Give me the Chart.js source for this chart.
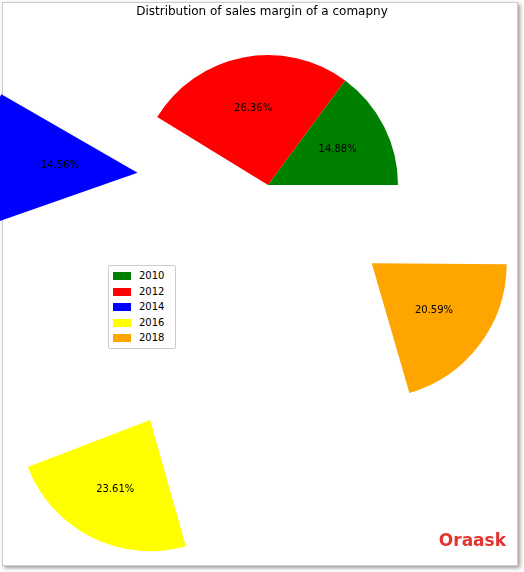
<!DOCTYPE html>
<html><head><meta charset="utf-8">
<script src="https://cdn.jsdelivr.net/npm/chart.js@4/dist/chart.umd.min.js"></script>
<style>
body{margin:0;width:524px;height:572px;background:#fff;position:relative;overflow:hidden;font-family:"DejaVu Sans",sans-serif}
#frame{position:absolute;left:2px;top:2px;width:514px;height:562px;border:1px solid #ccc;box-shadow:2px 2px 4px #999}
#title{position:absolute;left:0;width:524px;top:4px;text-align:center;font-size:12px;color:#000;z-index:2}
#wrap{position:absolute;left:-388px;top:-471px;width:1312px;height:1312px}
#legend{position:absolute;left:108px;top:265px;width:62px;border:1px solid #ccc;border-radius:2px;background:#fff;padding:2px 0 2px 4px;font-size:10px;z-index:2}
#legend div{height:15.5px;line-height:15.5px}
#legend span{display:inline-block;width:18px;height:8px;margin-right:8px;vertical-align:-1px}
#logo{position:absolute;right:18px;bottom:22px;color:#e3342f;font:bold 17px "DejaVu Sans",sans-serif;z-index:2}
</style></head><body>
<div id="frame"></div>
<div id="title">Distribution of sales margin of a comapny</div>
<div id="wrap"><canvas id="c" width="1312" height="1312"></canvas></div>
<div id="legend"></div>
<div id="logo">Oraask</div>
<script>
const years=['2010','2012','2014','2016','2018'];
const percents=[14.88,26.36,14.56,23.61,20.59];
const colors=['#008000','#ff0000','#0000ff','#ffff00','#ffa500'];
const explode=[0,0,131,263,130];
// Chart.js draws clockwise; matplotlib counter-clockwise -> reverse
const rev=a=>a.slice().reverse();
const labelPlugin={id:'lbl',afterDatasetsDraw(chart){
  const ctx=chart.ctx;const meta=chart.getDatasetMeta(0);
  ctx.save();ctx.font='10px "DejaVu Sans"';ctx.fillStyle='#000';ctx.textAlign='center';ctx.textBaseline='middle';
  meta.data.forEach((arc,i)=>{
    const mid=(arc.startAngle+arc.endAngle)/2;
    const off=rev(explode)[i];
    const r=arc.outerRadius*0.6+off;
    ctx.fillText(rev(percents)[i].toFixed(2)+'%',arc.x+Math.cos(mid)*r,arc.y+Math.sin(mid)*r);
  });
  ctx.restore();}};
new Chart(document.getElementById('c'),{type:'pie',
 data:{labels:rev(years),datasets:[{data:rev(percents),backgroundColor:rev(colors),borderWidth:0,offset:rev(explode).map(v=>v*4),hoverOffset:0}]},
 options:{responsive:false,animation:false,rotation:90,layout:{padding:0},
  plugins:{legend:{display:false},tooltip:{enabled:false}}},
 plugins:[labelPlugin]});
document.getElementById('legend').innerHTML=years.map((y,i)=>`<div><span style="background:${colors[i]}"></span>${y}</div>`).join('');
</script>
</body></html>
